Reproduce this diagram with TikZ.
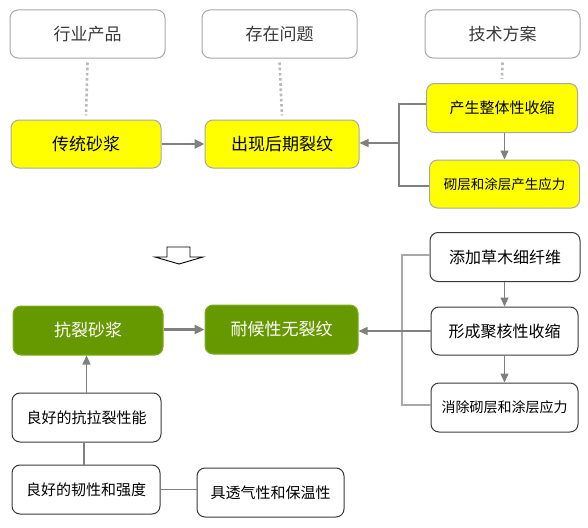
\documentclass[tikz,border=0pt]{standalone}
\usepackage{fontspec}
\setmainfont{Noto Sans CJK SC}
\usetikzlibrary{arrows.meta}
\definecolor{yel}{HTML}{FFFF00}
\definecolor{grn}{HTML}{669900}
\definecolor{grnb}{HTML}{7FAF1F}
\definecolor{lgray}{HTML}{A8A8A8}
\definecolor{cgray}{HTML}{808080}
\definecolor{dgray}{HTML}{3A3A3A}
\begin{document}
\begin{tikzpicture}[x=1pt,y=-1pt,
  box/.style={rectangle,rounded corners=8pt,inner sep=0pt,line width=1pt,align=center},
  hdr/.style={box,draw=lgray,fill=white,text=dgray,font=\fontsize{17}{20}\selectfont},
  ybox/.style={box,draw=lgray,fill=yel,text=black},
  gbox/.style={box,draw=grnb,fill=grn,text=white,font=\fontsize{17}{20}\selectfont},
  wbox/.style={box,draw=dgray,fill=white,text=black},
  dots/.style={draw=lgray!80,line width=2.6pt,dash pattern=on 2.6pt off 2.6pt},
  con/.style={draw=cgray,line width=1.1pt},
  arr/.style={con,-{Triangle[length=9pt,width=8pt]}},
  tarr/.style={draw=cgray,line width=2.6pt,-{Triangle[length=10pt,width=9pt]}}
]
\useasboundingbox (0,0) rectangle (588,527);
% headers
\node[hdr,minimum width=155pt,minimum height=48pt] (h1) at (87.5,34) {行业产品};
\node[hdr,minimum width=155pt,minimum height=48pt] (h2) at (279.5,34) {存在问题};
\node[hdr,minimum width=155pt,minimum height=48pt] (h3) at (502.5,34) {技术方案};
% top row
\node[ybox,minimum width=150pt,minimum height=48pt,font=\fontsize{17}{20}\selectfont] (a1) at (86,144) {传统砂浆};
\node[ybox,minimum width=154pt,minimum height=48pt,font=\fontsize{17}{20}\selectfont] (a2) at (282,144) {出现后期裂纹};
\node[ybox,minimum width=151pt,minimum height=49pt,font=\fontsize{15}{18}\selectfont] (a3) at (502,108) {产生整体性收缩};
\node[ybox,minimum width=150pt,minimum height=48pt,font=\fontsize{13.5}{16}\selectfont] (a4) at (504.5,184) {砌层和涂层产生应力};
% bottom right
\node[wbox,minimum width=150pt,minimum height=49pt,font=\fontsize{16}{19}\selectfont] (b1) at (505,257) {添加草木细纤维};
\node[wbox,minimum width=147pt,minimum height=48pt,font=\fontsize{16}{19}\selectfont] (b2) at (504.5,331) {形成聚核性收缩};
\node[wbox,minimum width=147pt,minimum height=49pt,font=\fontsize{14}{17}\selectfont] (b3) at (504.5,407.5) {消除砌层和涂层应力};
% green
\node[gbox,minimum width=150pt,minimum height=49pt] (c1) at (88,330.5) {抗裂砂浆};
\node[gbox,minimum width=153pt,minimum height=49pt] (c2) at (281.5,329.5) {耐候性无裂纹};
% bottom left
\node[wbox,minimum width=149pt,minimum height=49pt,font=\fontsize{15}{18}\selectfont] (d1) at (86.5,417.5) {良好的抗拉裂性能};
\node[wbox,minimum width=148pt,minimum height=49pt,font=\fontsize{15}{18}\selectfont] (d2) at (86,489.5) {良好的韧性和强度};
\node[wbox,minimum width=147pt,minimum height=49pt,font=\fontsize{15}{18}\selectfont] (d3) at (270.5,492.5) {具透气性和保温性};
% dotted links
\draw[dots] ([yshift=-4pt]h1.south) -- ([yshift=4pt]a1.north);
\draw[dots] ([yshift=-4pt]h2.south) -- ([yshift=4pt]a2.north);
\draw[dots] ([yshift=-4pt]h3.south) -- ([yshift=4pt]a3.north);
% top connectors
\draw[tarr] (a1.east) -- (a2.east -| a2.west);
\coordinate (k1) at (399,104);
\coordinate (k2) at (399,186);
\coordinate (k3) at (399,143);
\draw[con] (a3.west |- k1) -- (k1) -- (k2) -- (a4.west |- k2);
\draw[arr] (k3) -- (a2.east |- k3);
\draw[arr] (a3.south -| a4.north) -- (a4.north);
% hollow down arrow
\coordinate (ar) at (179,264);
\draw[line width=0.9pt,fill=white] (167,247) -- (190,247) -- (190,257) -- (203,257) -- (ar) -- (155,257) -- (167,257) -- cycle;
% bottom right connectors
\coordinate (m1) at (402,255);
\coordinate (m2) at (402,405);
\coordinate (m3) at (402,331);
\draw[con,draw=lgray] (b1.west |- m1) -- (m1) -- (m2) -- (b3.west |- m2);
\draw[arr] (b2.west) -- (m3) -- (c2.east |- m3);
\draw[arr] (b1.south -| b2.north) -- (b2.north);
\draw[arr] (b2.south -| b3.north) -- (b3.north);
% green link
\draw[tarr] (c1.east |- c2.east) -- (c2.west);
% bottom left
\draw[arr] (d1.north) -- (d1.north |- c1.south);
\draw[con] (d1.south -| 84,0) -- (d2.north -| 84,0);
\draw[con] (d2.east) -- (d2.east -| d3.west);
\end{tikzpicture}
\end{document}
